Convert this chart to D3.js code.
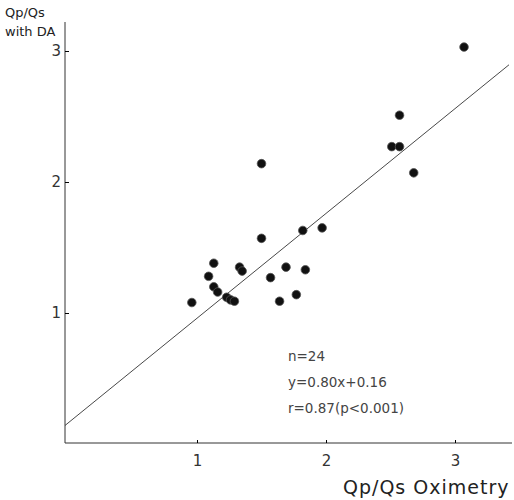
<!DOCTYPE html>
<html>
<head>
<meta charset="utf-8">
<script src="https://cdn.jsdelivr.net/npm/d3@7"></script>
<style>
body { margin: 0; background: #fff; }
svg text { font-family: "DejaVu Sans", sans-serif; fill: #222; }
</style>
</head>
<body>
<svg></svg>
<script>
// Qp/Qs oximetry vs Qp/Qs with DA
var oximetry = [3.07, 2.57, 2.51, 2.57, 2.68, 1.50, 1.50, 1.82, 1.97, 1.13, 1.09, 1.33,
                1.35, 1.69, 1.57, 1.84, 1.13, 1.16, 1.23, 1.26, 1.29, 0.96, 1.64, 1.77];
var withDA = [3.03, 2.51, 2.27, 2.27, 2.07, 2.14, 1.57, 1.63, 1.65, 1.38, 1.28, 1.35,
              1.32, 1.35, 1.27, 1.33, 1.20, 1.16, 1.12, 1.10, 1.09, 1.08, 1.09, 1.14];
var tickVals = [1, 2, 3];
var fit = { slope: 0.80, intercept: 0.16 };
var statLines = ["n=24", "y=0.80x+0.16", "r=0.87(p<0.001)"];

var svgwidth = 514, svgheight = 500;

var svg = d3.select('svg')
        .attr("width", svgwidth)
        .attr("height", svgheight)

var x = d3.scaleLinear().domain([0, 3]).range([68, 455]);
var y = d3.scaleLinear().domain([0, 3]).range([444, 51]);

// axis lines
svg.append("line").attr("x1", 65).attr("x2", 65).attr("y1", 22).attr("y2", 443)
        .attr("stroke", "#333").attr("stroke-width", 1);
svg.append("line").attr("x1", 65).attr("x2", 512).attr("y1", 443).attr("y2", 443)
        .attr("stroke", "#333").attr("stroke-width", 1);

var yAxis = d3.axisLeft(y).tickValues(tickVals).tickSize(-4).tickPadding(4).tickFormat(d3.format("d"));
var gy = svg.append("g").attr("transform", "translate(65,0)").call(yAxis);
gy.select(".domain").remove();
gy.selectAll("text").attr("font-size", 15).style("fill", "#333");

var xAxis = d3.axisBottom(x).tickValues(tickVals).tickSize(-3).tickPadding(12).tickFormat(d3.format("d"));
var gx = svg.append("g").attr("transform", "translate(0,443)").call(xAxis);
gx.select(".domain").remove();
gx.selectAll("text").attr("font-size", 15).style("fill", "#333");

// regression line
var x0 = x.invert(65), x1 = x.invert(509);
svg.append("line")
        .attr("x1", x(x0)).attr("y1", y(fit.slope * x0 + fit.intercept))
        .attr("x2", x(x1)).attr("y2", y(fit.slope * x1 + fit.intercept))
        .attr("stroke", "#333").attr("stroke-width", 0.9);

// points
svg.selectAll("circle")
        .data(oximetry)
        .enter()
        .append("circle")
        .attr("cx", function(d) { return x(d); })
        .attr("cy", function(d, i) { return y(withDA[i]); })
        .attr("r", 4.3)
        .attr("fill", "#111")
        .attr("stroke", "#555")
        .attr("stroke-width", 0.8);

// stats text
svg.selectAll("text.stat")
        .data(statLines)
        .enter()
        .append("text")
        .attr("class", "stat")
        .attr("x", 288)
        .attr("y", function(d, i) { return 361 + i * 26; })
        .attr("font-size", 13.5)
        .style("fill", "#444")
        .text(function(d) { return d; });

// axis titles
svg.append("text").attr("x", 5).attr("y", 17).attr("font-size", 13).text("Qp/Qs");
svg.append("text").attr("x", 5).attr("y", 36).attr("font-size", 13).text("with DA");
svg.append("text").attr("x", 343).attr("y", 494).attr("font-size", 19)
        .attr("letter-spacing", 1).text("Qp/Qs Oximetry");
</script>
</body>
</html>
